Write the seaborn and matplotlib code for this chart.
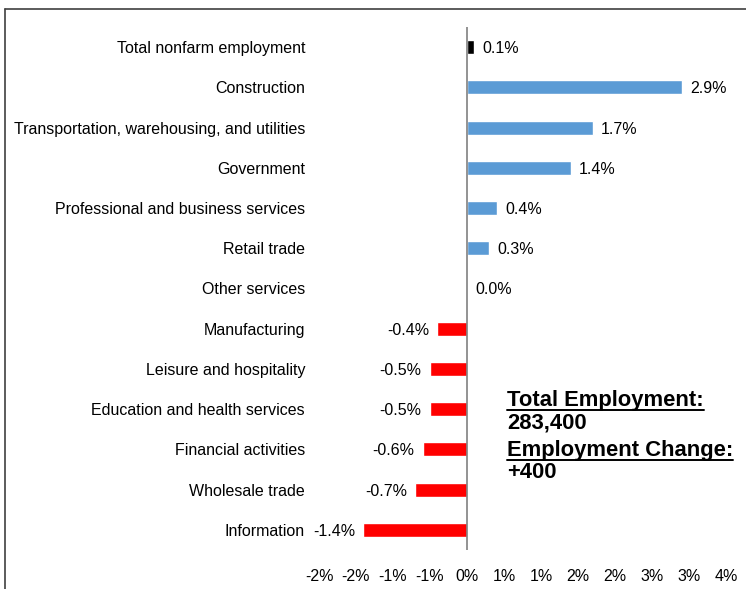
import matplotlib
matplotlib.use("Agg")
import matplotlib.pyplot as plt
import seaborn as sns
import pandas as pd
import numpy as np
from matplotlib.lines import Line2D

categories = ["Total nonfarm employment", "Construction",
              "Transportation, warehousing, and utilities", "Government",
              "Professional and business services", "Retail trade",
              "Other services", "Manufacturing", "Leisure and hospitality",
              "Education and health services", "Financial activities",
              "Wholesale trade", "Information"]
values = [0.1, 2.9, 1.7, 1.4, 0.4, 0.3, 0.0, -0.4, -0.5, -0.5, -0.6, -0.7, -1.4]
tick_values = [-2.0, -1.5, -1.0, -0.5, 0.0, 0.5, 1.0, 1.5, 2.0, 2.5, 3.0, 3.5]
tick_labels = ["-2%", "-2%", "-1%", "-1%", "0%", "1%", "1%", "2%", "2%", "3%", "3%", "4%"]
total_employment = "283,400"
employment_change = "+400"

colors = []
for c, v in zip(categories, values):
    if c == "Total nonfarm employment":
        colors.append("#000000")
    elif v >= 0:
        colors.append("#5B9BD5")
    else:
        colors.append("#FF0000")

sns.set_style("white")
plt.rcParams['font.family'] = ['Liberation Sans', 'DejaVu Sans']
plt.rcParams['text.color'] = 'black'
plt.rcParams['xtick.color'] = 'black'
plt.rcParams['ytick.color'] = 'black'

df = pd.DataFrame({"cat": categories, "val": values})
fig = plt.figure(figsize=(7.46, 5.89), dpi=100)
ax = fig.add_axes([319/746, 39/589, (726-319)/746, (562-39)/589])
sns.barplot(data=df, x="val", y="cat", hue="cat", palette=colors, legend=False,
            width=0.35, ax=ax, saturation=1, orient="h")
ax.set_xlim(-2.0, 3.5)
ax.set_ylim(12.5, -0.5)
for s in ax.spines.values():
    s.set_visible(False)
ax.axvline(0, color="#808080", lw=1.2, zorder=3)
ax.set_xticks(tick_values)
ax.set_xticklabels(tick_labels, fontsize=11.5)
ax.tick_params(axis="x", length=0, pad=14)
ax.tick_params(axis="y", length=0, pad=10, labelsize=11.5)
ax.set_xlabel("")
ax.set_ylabel("")

for i, v in enumerate(values):
    lab = f"{v:.1f}%"
    if v >= 0:
        ax.annotate(lab, (v, i), xytext=(6, 0), textcoords="offset points",
                    ha="left", va="center_baseline", fontsize=11.5)
    else:
        ax.annotate(lab, (v, i), xytext=(-6, 0), textcoords="offset points",
                    ha="right", va="center_baseline", fontsize=11.5)

# summary text with underlines
lines = [("Total Employment:", True, 398), (total_employment, False, 420),
         ("Employment Change:", True, 448), (employment_change, False, 470)]
fig.canvas.draw()
renderer = fig.canvas.get_renderer()
for txt, ul, ypx in lines:
    t = fig.text(507/746, 1 - ypx/589, txt, fontsize=15.8, fontweight="bold",
                 ha="left", va="center_baseline")
    if ul:
        bb = t.get_window_extent(renderer)
        y = bb.y0 + 1.5
        fig.add_artist(Line2D([bb.x0/746, bb.x1/746], [y/589, y/589],
                              color="black", lw=1.4, transform=fig.transFigure))

# frame lines (left and top)
fig.add_artist(Line2D([4.5/746, 4.5/746], [0, 1 - 8.5/589], color="#404040", lw=1.2,
                      transform=fig.transFigure))
fig.add_artist(Line2D([4.5/746, 1], [1 - 8.5/589, 1 - 8.5/589], color="#404040", lw=1.2,
                      transform=fig.transFigure))

fig.savefig("out.png", dpi=100)
